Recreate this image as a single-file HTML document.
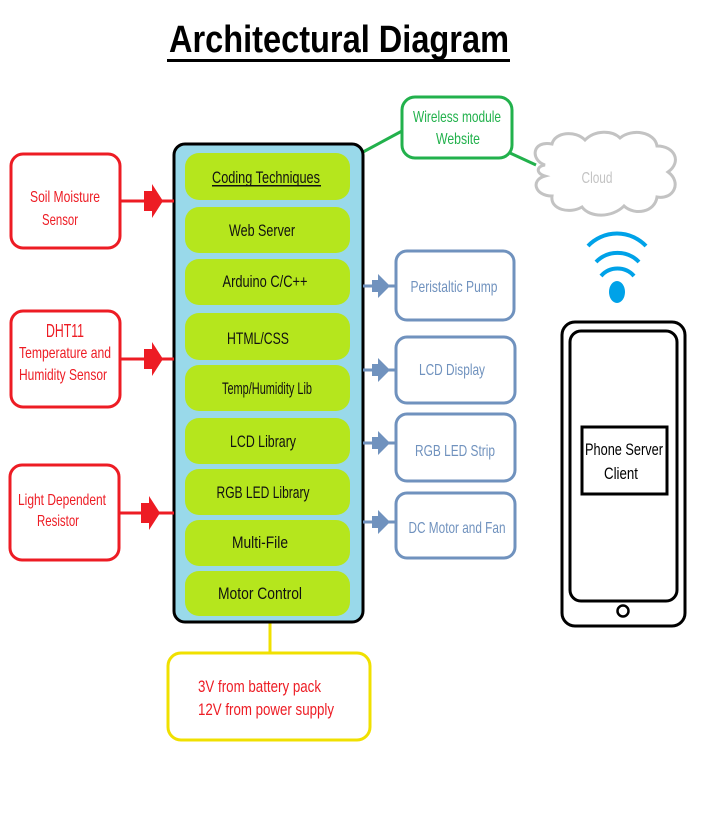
<!DOCTYPE html>
<html><head><meta charset="utf-8"><style>
html,body{margin:0;padding:0;background:#fff;}
svg{display:block;font-family:"Liberation Sans",sans-serif;}
</style></head><body>
<svg width="710" height="834" viewBox="0 0 710 834" xmlns="http://www.w3.org/2000/svg">
<rect width="710" height="834" fill="#fff"/>
<text x="339" y="52" text-anchor="middle" font-size="38" font-weight="bold" textLength="340" lengthAdjust="spacingAndGlyphs" fill="#000">Architectural Diagram</text>
<rect x="167" y="59" width="343" height="3" fill="#000"/>

<line x1="363" y1="152" x2="402" y2="131" stroke="#22b14c" stroke-width="3"/>
<line x1="510" y1="153" x2="536" y2="165" stroke="#22b14c" stroke-width="3"/>
<line x1="270" y1="622" x2="270" y2="653" stroke="#f0e000" stroke-width="3"/>

<rect x="174" y="144" width="189" height="478" rx="11" fill="#99d9ea" stroke="#000" stroke-width="3"/>
<g fill="#b5e61d">
<rect x="185" y="153" width="165" height="47" rx="14"/>
<rect x="185" y="207" width="165" height="46" rx="14"/>
<rect x="185" y="259" width="165" height="46" rx="14"/>
<rect x="185" y="313" width="165" height="47" rx="14"/>
<rect x="185" y="365" width="165" height="46" rx="14"/>
<rect x="185" y="418" width="165" height="46" rx="14"/>
<rect x="185" y="469" width="165" height="46" rx="14"/>
<rect x="185" y="520" width="165" height="46" rx="14"/>
<rect x="185" y="571" width="165" height="45" rx="14"/>
</g>
<g font-size="17" fill="#111" text-anchor="middle">
<text x="266" y="183" textLength="108" lengthAdjust="spacingAndGlyphs">Coding Techniques</text>
<rect x="212" y="185" width="109" height="1.5" fill="#111"/>
<text x="262" y="236" textLength="66" lengthAdjust="spacingAndGlyphs">Web Server</text>
<text x="265" y="287" textLength="85" lengthAdjust="spacingAndGlyphs">Arduino C/C++</text>
<text x="258" y="344" textLength="62" lengthAdjust="spacingAndGlyphs">HTML/CSS</text>
<text x="267" y="394" textLength="90" lengthAdjust="spacingAndGlyphs">Temp/Humidity Lib</text>
<text x="263" y="447" textLength="66" lengthAdjust="spacingAndGlyphs">LCD Library</text>
<text x="263" y="498" textLength="93" lengthAdjust="spacingAndGlyphs">RGB LED Library</text>
<text x="260" y="548" textLength="56" lengthAdjust="spacingAndGlyphs">Multi-File</text>
<text x="260" y="599" textLength="84" lengthAdjust="spacingAndGlyphs">Motor Control</text>
</g>

<g fill="none" stroke="#ed1c24" stroke-width="3">
<rect x="11" y="154" width="109" height="94" rx="12"/>
<rect x="11" y="311" width="109" height="96" rx="12"/>
<rect x="10" y="465" width="109" height="95" rx="12"/>
<line x1="120" y1="201" x2="174" y2="201"/>
<line x1="120" y1="359" x2="174" y2="359"/>
<line x1="119" y1="513" x2="174" y2="513"/>
</g>
<g fill="#ed1c24">
<polygon points="144,191 152,191 152,184 163,201 152,218 152,211 144,211"/>
<polygon points="144,349 152,349 152,342 163,359 152,376 152,369 144,369"/>
<polygon points="141,503 149,503 149,496 160,513 149,530 149,523 141,523"/>
</g>
<g fill="#ed1c24" font-size="16" text-anchor="middle">
<text x="65" y="202" textLength="70" lengthAdjust="spacingAndGlyphs">Soil Moisture</text>
<text x="60" y="225" textLength="36" lengthAdjust="spacingAndGlyphs">Sensor</text>
<text x="65" y="337" font-size="18" textLength="38" lengthAdjust="spacingAndGlyphs">DHT11</text>
<text x="65" y="358" textLength="92" lengthAdjust="spacingAndGlyphs">Temperature and</text>
<text x="63" y="380" textLength="88" lengthAdjust="spacingAndGlyphs">Humidity Sensor</text>
<text x="62" y="505" textLength="88" lengthAdjust="spacingAndGlyphs">Light Dependent</text>
<text x="58" y="526" textLength="42" lengthAdjust="spacingAndGlyphs">Resistor</text>
</g>

<g fill="none" stroke="#7092be" stroke-width="3">
<rect x="396" y="251" width="118" height="69" rx="11"/>
<rect x="396" y="337" width="119" height="66" rx="11"/>
<rect x="396" y="414" width="119" height="67" rx="11"/>
<rect x="396" y="493" width="119" height="65" rx="11"/>
<line x1="363" y1="286" x2="396" y2="286"/>
<line x1="363" y1="370" x2="396" y2="370"/>
<line x1="363" y1="443" x2="396" y2="443"/>
<line x1="363" y1="522" x2="396" y2="522"/>
</g>
<g fill="#7092be">
<polygon points="372,280 378,280 378,274 390,286 378,298 378,292 372,292"/>
<polygon points="372,364 378,364 378,358 390,370 378,382 378,376 372,376"/>
<polygon points="372,437 378,437 378,431 390,443 378,455 378,449 372,449"/>
<polygon points="372,516 378,516 378,510 390,522 378,534 378,528 372,528"/>
</g>
<g fill="#7092be" font-size="16" text-anchor="middle">
<text x="454" y="292" textLength="87" lengthAdjust="spacingAndGlyphs">Peristaltic Pump</text>
<text x="452" y="375" textLength="66" lengthAdjust="spacingAndGlyphs">LCD Display</text>
<text x="455" y="456" textLength="80" lengthAdjust="spacingAndGlyphs">RGB LED Strip</text>
<text x="457" y="533" textLength="97" lengthAdjust="spacingAndGlyphs">DC Motor and Fan</text>
</g>

<rect x="402" y="97" width="110" height="61" rx="13" fill="#fff" stroke="#22b14c" stroke-width="3"/>
<g fill="#22b14c" font-size="16" text-anchor="middle">
<text x="457" y="122" textLength="88" lengthAdjust="spacingAndGlyphs">Wireless module</text>
<text x="458" y="144" textLength="44" lengthAdjust="spacingAndGlyphs">Website</text>
</g>

<path d="M545,165 C530,160 532,140 552,144 C555,132 575,130 585,140 C595,130 612,130 620,138 C632,128 655,132 657,146 C675,146 682,162 668,172 C682,182 674,200 657,197 C655,212 635,216 624,206 C612,218 590,218 582,207 C570,214 550,210 552,196 C535,196 530,180 545,176 C535,173 537,166 545,165 Z" fill="#fff" stroke="#c3c3c3" stroke-width="3"/>
<text x="597" y="183" text-anchor="middle" font-size="16" fill="#c3c3c3" textLength="31" lengthAdjust="spacingAndGlyphs">Cloud</text>

<g fill="none" stroke="#00a2e8" stroke-width="4">
<path d="M588,246 A40,40 0 0 1 646,246"/>
<path d="M596,262 A30,30 0 0 1 639,262"/>
<path d="M601,276 A22,22 0 0 1 634,276"/>
</g>
<ellipse cx="617" cy="292" rx="8" ry="11" fill="#00a2e8"/>

<rect x="562" y="322" width="123" height="304" rx="13" fill="#fff" stroke="#000" stroke-width="3"/>
<rect x="570" y="331" width="107" height="270" rx="11" fill="#fff" stroke="#000" stroke-width="3"/>
<circle cx="623" cy="611" r="5.5" fill="none" stroke="#000" stroke-width="2.5"/>
<rect x="582" y="427" width="85" height="67" fill="#fff" stroke="#000" stroke-width="3"/>
<g font-size="17" fill="#000" text-anchor="middle">
<text x="624" y="455" textLength="78" lengthAdjust="spacingAndGlyphs">Phone Server</text>
<text x="621" y="479" textLength="34" lengthAdjust="spacingAndGlyphs">Client</text>
</g>

<rect x="168" y="653" width="202" height="87" rx="13" fill="#fff" stroke="#f0e000" stroke-width="3"/>
<g fill="#ed1c24" font-size="17">
<text x="198" y="692" textLength="123" lengthAdjust="spacingAndGlyphs">3V from battery pack</text>
<text x="198" y="715" textLength="136" lengthAdjust="spacingAndGlyphs">12V from power supply</text>
</g>
</svg>
</body></html>
